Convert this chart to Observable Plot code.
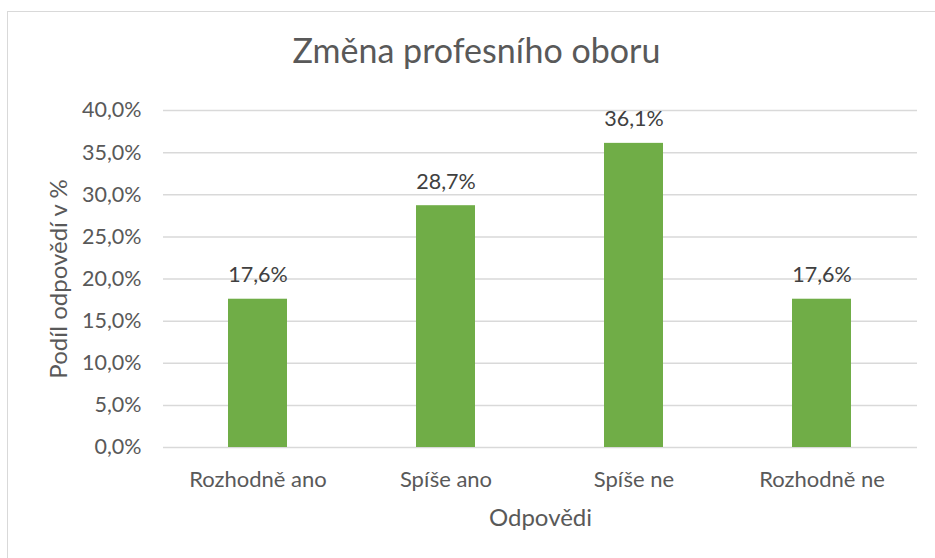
<!DOCTYPE html>
<html>
<head>
<meta charset="utf-8">
<script src="https://cdn.jsdelivr.net/npm/d3@7"></script>
<script src="https://cdn.jsdelivr.net/npm/@observablehq/plot@0.6"></script>
<style>
  html, body { margin: 0; padding: 0; background: #fff; overflow: hidden; }
  #wrap { position: relative; width: 935px; height: 558px; font-family: Lato, "Open Sans", sans-serif; }
  #frame { position: absolute; left: 7px; top: 11px; width: 940px; height: 560px; border: 1.5px solid #d9d9d9; box-sizing: border-box; }
  #title { position: absolute; left: 0; width: 953px; top: 33px; line-height: 1; text-align: center; font-size: 34px; color: #595959; }
  #ylabel { position: absolute; left: 58px; top: 279px; transform: translate(-50%, -50%) rotate(-90deg); white-space: nowrap; font-size: 24px; line-height: 1; color: #595959; }
  #chart { position: absolute; left: 0; top: 0; }
</style>
</head>
<body>
<div id="wrap">
  <div id="frame"></div>
  <div id="title"></div>
  <div id="chart"></div>
  <div id="ylabel"></div>
</div>
<script>
const title = "Změna profesního oboru";
const categories = ["Rozhodně ano", "Spíše ano", "Spíše ne", "Rozhodně ne"];
const values = [17.6, 28.7, 36.1, 17.6];
const yTicks = [0, 5, 10, 15, 20, 25, 30, 35, 40];
const yLabel = "Podíl odpovědí v %";
const xLabel = "Odpovědi";

document.getElementById("title").textContent = title;
document.getElementById("ylabel").textContent = yLabel;

const data = categories.map((c, i) => ({category: c, value: values[i]}));
const fmt = v => v.toFixed(1).replace(".", ",") + "%";

const chart = Plot.plot({
  width: 935,
  height: 558,
  marginTop: 110,
  marginBottom: 111,
  marginLeft: 163,
  marginRight: 18,
  style: {fontFamily: "Lato, 'Open Sans', sans-serif", fontSize: "22px", color: "#595959", background: "transparent"},
  x: {domain: categories, paddingInner: 0.686, paddingOuter: 0.343, label: null},
  y: {domain: [0, 40], label: null},
  marks: [
    Plot.gridY(yTicks, {stroke: "#d9d9d9", strokeOpacity: 1, strokeWidth: 1.5}),
    Plot.axisY(yTicks, {tickSize: 0, tickPadding: 22, tickFormat: fmt, fill: "#595959", fontSize: 21.5}),
    Plot.axisX({tickSize: 0, tickPadding: 24, fill: "#595959", fontSize: 22}),
    Plot.barY(data, {x: "category", y: "value", fill: "#70ad47", insetLeft: 0, insetRight: 0}),
    Plot.text(data, {x: "category", y: "value", text: d => fmt(d.value), lineAnchor: "bottom", dy: -17, fill: "#404040", fontSize: 21.5}),
    Plot.text([xLabel], {frameAnchor: "bottom", dy: 78, text: d => d, fill: "#595959", fontSize: 24})
  ]
});
document.getElementById("chart").appendChild(chart);
</script>
</body>
</html>
